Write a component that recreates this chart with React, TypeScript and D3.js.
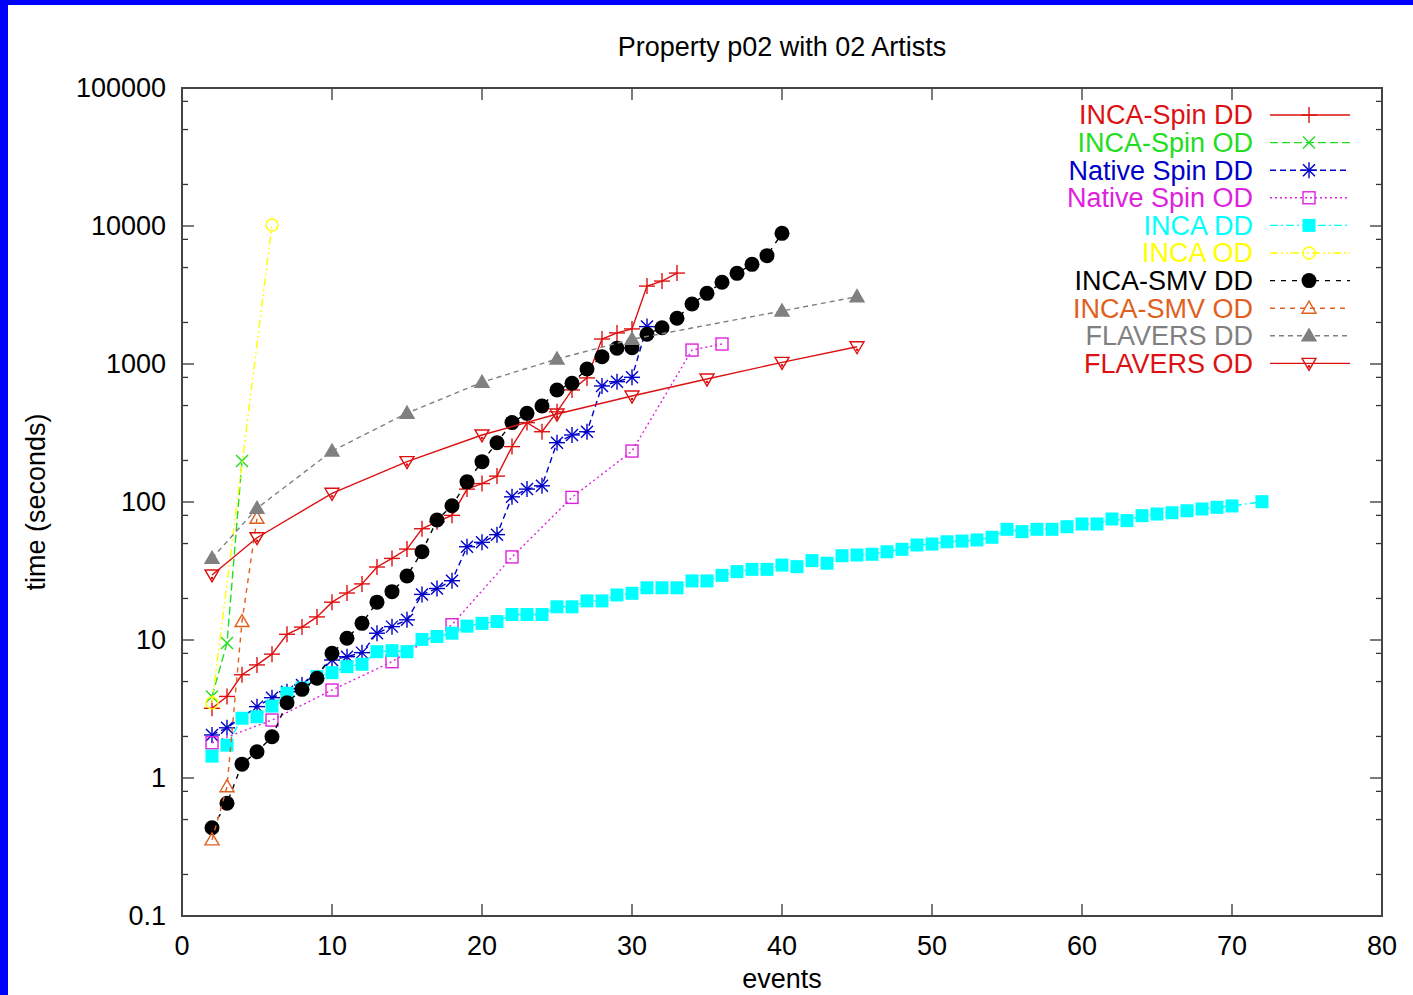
import React, { useEffect, useRef } from "react";
import * as d3 from "d3";

// ---- data (events -> seconds) ----
const incaSpinDDEvents = [2, 3, 4, 5, 6, 7, 8, 9, 10, 11, 12, 13, 14, 15, 16, 17, 18, 19, 20, 21, 22, 23, 24, 25, 26, 27, 28, 29, 30, 31, 32, 33];
const incaSpinDDTimes = [3.2, 3.9, 5.6, 6.6, 7.9, 11, 12.4, 14.7, 18.8, 21.9, 25.5, 33.8, 39, 45.6, 64, 72, 80, 124, 136, 154, 252, 376, 323, 450, 649, 793, 1517, 1680, 1796, 3670, 3990, 4560];

const incaSpinODEvents = [2, 3, 4];
const incaSpinODTimes = [3.9, 9.5, 198];

const nativeSpinDDEvents = [2, 3, 5, 6, 7, 8, 10, 11, 12, 13, 14, 15, 16, 17, 18, 19, 20, 21, 22, 23, 24, 25, 26, 27, 28, 29, 30, 31];
const nativeSpinDDTimes = [2.05, 2.31, 3.29, 3.82, 4.22, 4.72, 7.16, 7.57, 8.1, 11.2, 12.5, 14.0, 21.4, 23.6, 26.9, 47.4, 51, 58, 109, 124, 131, 269, 306, 323, 693, 745, 801, 1866];

const nativeSpinODEvents = [2, 6, 10, 14, 18, 22, 26, 30, 34, 36];
const nativeSpinODTimes = [1.8, 2.63, 4.34, 6.96, 12.9, 40, 108, 234, 1262, 1396];

const incaDDEvents = [2, 3, 4, 5, 6, 7, 8, 9, 10, 11, 12, 13, 14, 15, 16, 17, 18, 19, 20, 21, 22, 23, 24, 25, 26, 27, 28, 29, 30, 31, 32, 33, 34, 35, 36, 37, 38, 39, 40, 41, 42, 43, 44, 45, 46, 47, 48, 49, 50, 51, 52, 53, 54, 55, 56, 57, 58, 59, 60, 61, 62, 63, 64, 65, 66, 67, 68, 69, 70, 72];
const incaDDTimes = [1.44, 1.73, 2.71, 2.78, 3.32, 4.11, 4.49, 5.42, 5.8, 6.41, 6.67, 8.23, 8.37, 8.23, 10.1, 10.6, 11.2, 12.6, 13.2, 13.6, 15.3, 15.3, 15.3, 17.4, 17.4, 19.2, 19.2, 21.2, 21.8, 23.9, 23.9, 23.9, 26.8, 26.8, 29.4, 31.3, 32.5, 32.5, 34.9, 34.0, 37.6, 36.0, 40.8, 41.3, 41.8, 43.6, 45.4, 48.8, 49.6, 51.5, 52.1, 53.1, 55.5, 63.4, 61.0, 63.4, 63.4, 66.2, 69.3, 69.3, 75.3, 73.3, 79.6, 81.8, 83.6, 86.4, 89, 91.5, 93.6, 100.5];

const incaODEvents = [2, 6];
const incaODTimes = [3.5, 10160];

const incaSmvDDEvents = [2, 3, 4, 5, 6, 7, 8, 9, 10, 11, 12, 13, 14, 15, 16, 17, 18, 19, 20, 21, 22, 23, 24, 25, 26, 27, 28, 29, 30, 31, 32, 33, 34, 35, 36, 37, 38, 39, 40];
const incaSmvDDTimes = [0.436, 0.656, 1.26, 1.55, 1.99, 3.51, 4.39, 5.28, 8.0, 10.3, 13.2, 18.8, 22.4, 29.1, 43.6, 74.1, 94, 140, 196, 269, 376, 439, 496, 648, 725, 920, 1129, 1300, 1310, 1641, 1833, 2143, 2720, 3252, 3908, 4540, 5276, 6097, 8850];

const incaSmvODEvents = [2, 3, 4, 5];
const incaSmvODTimes = [0.356, 0.865, 13.6, 76.2];

const flaversDDEvents = [2, 5, 10, 15, 20, 25, 30, 40, 45];
const flaversDDTimes = [39.1, 90, 234, 440, 737, 1087, 1510, 2421, 3075];

const flaversODEvents = [2, 5, 10, 15, 20, 25, 30, 35, 40, 45];
const flaversODTimes = [29.6, 55.1, 115.6, 196, 306, 434, 586, 778, 1028, 1334];

const xTicks = [0, 10, 20, 30, 40, 50, 60, 70, 80];
const yTicks = [0.1, 1, 10, 100, 1000, 10000, 100000];
const yTickLabels = ["0.1", "1", "10", "100", "1000", "10000", "100000"];

const series = [
  { name: "INCA-Spin DD", events: incaSpinDDEvents, times: incaSpinDDTimes, color: "#dd1111", dash: null, marker: "plus" },
  { name: "INCA-Spin OD", events: incaSpinODEvents, times: incaSpinODTimes, color: "#22dd22", dash: "8,4", marker: "cross" },
  { name: "Native Spin DD", events: nativeSpinDDEvents, times: nativeSpinDDTimes, color: "#0000c8", dash: "6,4", marker: "star" },
  { name: "Native Spin OD", events: nativeSpinODEvents, times: nativeSpinODTimes, color: "#dd22dd", dash: "2,3", marker: "openSquare" },
  { name: "INCA DD", events: incaDDEvents, times: incaDDTimes, color: "#00ffff", dash: "8,3,2,3", marker: "filledSquare" },
  { name: "INCA OD", events: incaODEvents, times: incaODTimes, color: "#ffff00", dash: "8,3,2,3,2,3", marker: "openCircle" },
  { name: "INCA-SMV DD", events: incaSmvDDEvents, times: incaSmvDDTimes, color: "#000000", dash: "5,6", marker: "filledCircle" },
  { name: "INCA-SMV OD", events: incaSmvODEvents, times: incaSmvODTimes, color: "#e0601e", dash: "5,5", marker: "openTriangle" },
  { name: "FLAVERS DD", events: flaversDDEvents, times: flaversDDTimes, color: "#808080", dash: "5,4", marker: "filledTriangle" },
  { name: "FLAVERS OD", events: flaversODEvents, times: flaversODTimes, color: "#dd1111", dash: null, marker: "openInvTriangle" },
];

const FONT = "'Liberation Sans', Arial, Helvetica, sans-serif";

function drawMarker(g, type, x, y, color) {
  const sw = 1.4;
  const line = (x1, y1, x2, y2) =>
    g.append("line").attr("x1", x1).attr("y1", y1).attr("x2", x2).attr("y2", y2)
      .attr("stroke", color).attr("stroke-width", sw);
  if (type === "plus" || type === "star") {
    line(x - 8, y, x + 8, y);
    line(x, y - 8, x, y + 8);
  }
  if (type === "cross" || type === "star") {
    line(x - 6, y - 6, x + 6, y + 6);
    line(x - 6, y + 6, x + 6, y - 6);
  }
  if (type === "openSquare") {
    g.append("rect").attr("x", x - 6).attr("y", y - 6).attr("width", 12).attr("height", 12)
      .attr("fill", "none").attr("stroke", color).attr("stroke-width", sw);
  }
  if (type === "filledSquare") {
    g.append("rect").attr("x", x - 6.5).attr("y", y - 6.5).attr("width", 13).attr("height", 13)
      .attr("fill", color);
  }
  if (type === "openCircle") {
    g.append("circle").attr("cx", x).attr("cy", y).attr("r", 6)
      .attr("fill", "none").attr("stroke", color).attr("stroke-width", sw);
  }
  if (type === "filledCircle") {
    g.append("circle").attr("cx", x).attr("cy", y).attr("r", 7.5).attr("fill", color);
  }
  if (type === "openTriangle" || type === "filledTriangle") {
    const pts = `${x},${y - 7} ${x + 7},${y + 5} ${x - 7},${y + 5}`;
    g.append("polygon").attr("points", pts)
      .attr("fill", type === "filledTriangle" ? color : "none")
      .attr("stroke", color).attr("stroke-width", sw);
  }
  if (type === "openInvTriangle") {
    const pts = `${x},${y + 7} ${x + 7},${y - 5} ${x - 7},${y - 5}`;
    g.append("polygon").attr("points", pts)
      .attr("fill", "none").attr("stroke", color).attr("stroke-width", sw);
    g.append("circle").attr("cx", x).attr("cy", y + 3).attr("r", 1.3).attr("fill", color);
  }
}

const App = () => {
  const ref = useRef(null);

  useEffect(() => {
    const svg = d3.select(ref.current);
    svg.selectAll("*").remove();

    const width = 1413;
    const height = 995;

    // blue slide background with white page
    svg.append("rect").attr("width", width).attr("height", height).attr("fill", "#0000ff");
    svg.append("rect").attr("x", 8).attr("y", 5).attr("width", width - 8).attr("height", height - 5).attr("fill", "#ffffff");

    const x = d3.scaleLinear().domain([0, 80]).range([182, 1382]);
    const y = d3.scaleLog().domain([0.1, 100000]).range([916, 88]);

    const [x0, x1] = x.range();
    const [y0, y1] = y.range();

    // ticks (inward, mirrored)
    const axis = svg.append("g").attr("stroke", "#333").attr("stroke-width", 1.3);
    xTicks.forEach((t) => {
      const px = x(t);
      axis.append("line").attr("x1", px).attr("x2", px).attr("y1", y0).attr("y2", y0 - 12);
      axis.append("line").attr("x1", px).attr("x2", px).attr("y1", y1).attr("y2", y1 + 12);
    });
    yTicks.forEach((t, i) => {
      const py = y(t);
      axis.append("line").attr("x1", x0).attr("x2", x0 + 12).attr("y1", py).attr("y2", py);
      axis.append("line").attr("x1", x1).attr("x2", x1 - 12).attr("y1", py).attr("y2", py);
      if (i < yTicks.length - 1) {
        [2, 5, 8].forEach((m) => {
          const pm = y(t * m);
          axis.append("line").attr("x1", x0).attr("x2", x0 + 6).attr("y1", pm).attr("y2", pm);
          axis.append("line").attr("x1", x1).attr("x2", x1 - 6).attr("y1", pm).attr("y2", pm);
        });
      }
    });

    // frame
    svg.append("rect").attr("x", x0).attr("y", y1).attr("width", x1 - x0).attr("height", y0 - y1)
      .attr("fill", "none").attr("stroke", "#444").attr("stroke-width", 2);

    // tick labels
    const labels = svg.append("g").style("font-family", FONT).style("font-size", "27px").attr("fill", "#000");
    xTicks.forEach((t) => {
      labels.append("text").attr("x", x(t)).attr("y", 955).attr("text-anchor", "middle").text(t);
    });
    yTicks.forEach((t, i) => {
      labels.append("text").attr("x", 166).attr("y", y(t)).attr("dy", "0.35em")
        .attr("text-anchor", "end").text(yTickLabels[i]);
    });

    // title and axis labels
    labels.append("text").attr("x", 782).attr("y", 56).attr("text-anchor", "middle")
      .text("Property p02 with 02 Artists");
    labels.append("text").attr("x", 782).attr("y", 988).attr("text-anchor", "middle").text("events");
    labels.append("text").attr("transform", "translate(45,502) rotate(-90)")
      .attr("text-anchor", "middle").text("time (seconds)");

    // series
    const lineGen = d3.line().x((d) => x(d[0])).y((d) => y(d[1]));
    series.forEach((s) => {
      const pts = s.events.map((e, i) => [e, s.times[i]]);
      const g = svg.append("g");
      g.append("path").attr("d", lineGen(pts)).attr("fill", "none")
        .attr("stroke", s.color).attr("stroke-width", 1.4)
        .attr("stroke-dasharray", s.dash);
      pts.forEach((p) => drawMarker(g, s.marker, x(p[0]), y(p[1]), s.color));
    });

    // legend
    const legend = svg.append("g").style("font-family", FONT).style("font-size", "27px");
    series.forEach((s, i) => {
      const ly = 115 + i * 27.6;
      legend.append("text").attr("x", 1253).attr("y", ly).attr("dy", "0.35em")
        .attr("text-anchor", "end").attr("fill", s.color).text(s.name);
      legend.append("line").attr("x1", 1270).attr("x2", 1350).attr("y1", ly).attr("y2", ly)
        .attr("stroke", s.color).attr("stroke-width", 1.4).attr("stroke-dasharray", s.dash);
      drawMarker(legend.append("g"), s.marker, 1309, ly, s.color);
    });
  }, []);

  return (
    <svg
      ref={ref}
      width={1413}
      height={995}
      style={{ position: "absolute", left: 0, top: 0, display: "block" }}
    />
  );
};

export default App;
